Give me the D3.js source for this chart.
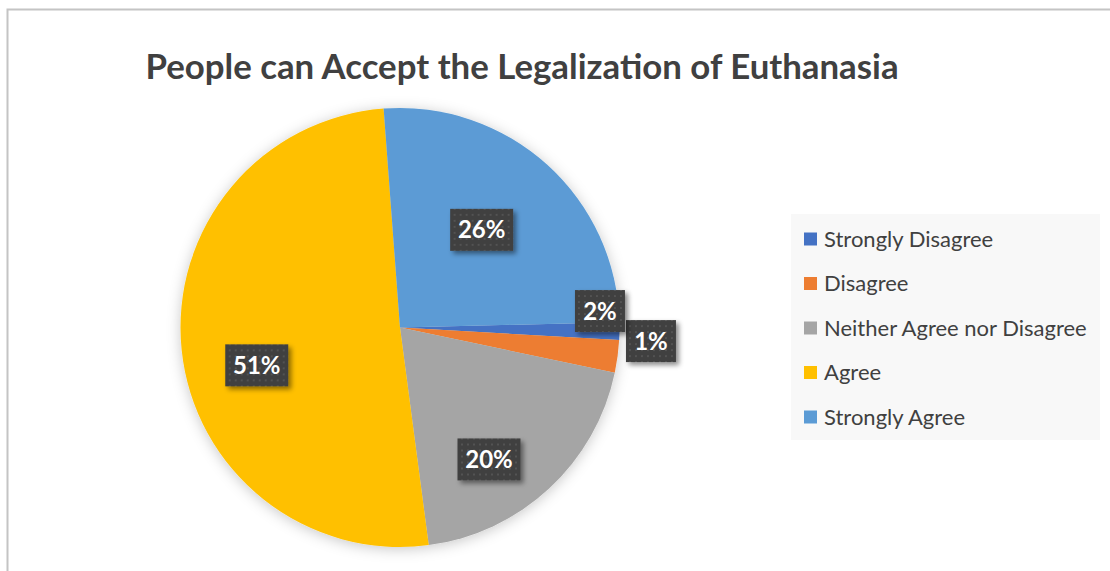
<!DOCTYPE html>
<html>
<head>
<meta charset="utf-8">
<script src="https://cdn.jsdelivr.net/npm/d3@7"></script>
<style>
  html, body { margin: 0; padding: 0; background: #ffffff; }
  svg { display: block; }
</style>
</head>
<body>
<svg id="chart" width="1110" height="571"></svg>
<script>
// ---- data ----
const categories = ["Strongly Disagree", "Disagree", "Neither Agree nor Disagree", "Agree", "Strongly Agree"];
const values = [1.3, 2.4, 19.6, 50.9, 25.8];
const colors = ["#4472C4", "#ED7D31", "#A5A5A5", "#FFC000", "#5B9BD5"];
const titleText = "People can Accept the Legalization of Euthanasia";
// label placement (polar: angle in degrees clockwise from 12 o'clock, radius fraction)
const labelAngles = [93.1, 85.3, 146, 255.2, 39.9];
const labelRadii = [1.145, 0.914, 0.725, 0.675, 0.58];

// ---- layout ----
const W = 1110, H = 571;
const cx = 400, cy = 327.5, R = 219.5;
const startDeg = 88.6;

const svg = d3.select("#chart");
const defs = svg.append("defs");

// soft glow/shadow around pie
const glow = defs.append("filter").attr("id", "pieShadow")
  .attr("x", "-20%").attr("y", "-20%").attr("width", "140%").attr("height", "140%");
glow.append("feDropShadow").attr("dx", 0).attr("dy", 2).attr("stdDeviation", 7)
  .attr("flood-color", "#000").attr("flood-opacity", 0.22);

// label shadow
const ls = defs.append("filter").attr("id", "lblShadow")
  .attr("x", "-30%").attr("y", "-30%").attr("width", "170%").attr("height", "170%");
ls.append("feDropShadow").attr("dx", 3).attr("dy", 3).attr("stdDeviation", 2.5)
  .attr("flood-color", "#000").attr("flood-opacity", 0.45);

// dotted pattern for label boxes
const pat = defs.append("pattern").attr("id", "dots")
  .attr("patternUnits", "userSpaceOnUse").attr("width", 6).attr("height", 6);
pat.append("rect").attr("width", 6).attr("height", 6).attr("fill", "#404040");
pat.append("rect").attr("x", 2).attr("y", 2).attr("width", 2).attr("height", 2).attr("fill", "#525252");

// chart frame
svg.append("rect")
  .attr("x", 7.5).attr("y", 9.5).attr("width", W + 20).attr("height", H + 20)
  .attr("fill", "#ffffff").attr("stroke", "#c4c4c4").attr("stroke-width", 2);

// title
svg.append("text")
  .attr("x", 522).attr("y", 79)
  .attr("text-anchor", "middle")
  .attr("font-family", "Lato, 'Open Sans', sans-serif")
  .attr("font-weight", "bold")
  .attr("font-size", 34.8)
  .attr("fill", "#404040")
  .text(titleText);

// pie
const data = categories.map((c, i) => ({ cat: c, value: values[i], color: colors[i], la: labelAngles[i], lr: labelRadii[i] }));
const toRad = d => d * Math.PI / 180;
const pie = d3.pie().sort(null).value(d => d.value)
  .startAngle(toRad(startDeg)).endAngle(toRad(startDeg) + 2 * Math.PI);
const arc = d3.arc().innerRadius(0).outerRadius(R);
const arcs = pie(data);

const g = svg.append("g").attr("transform", `translate(${cx},${cy})`);
const slices = g.append("g").attr("filter", "url(#pieShadow)");
slices.selectAll("path").data(arcs).join("path")
  .attr("d", arc)
  .attr("fill", d => d.data.color)
  .attr("stroke", "none");

// labels
const total = d3.sum(values);
const fmt = v => Math.round(v / total * 100) + "%";
const lbl = g.append("g").selectAll("g").data(arcs).join("g")
  .attr("transform", d => {
    const a = toRad(d.data.la);
    const r = R * d.data.lr;
    return `translate(${r * Math.sin(a)},${-r * Math.cos(a)})`;
  });
lbl.append("rect")
  .attr("x", d => fmt(d.value).length > 2 ? -31.5 : -25)
  .attr("width", d => fmt(d.value).length > 2 ? 63 : 50)
  .attr("y", -21).attr("height", 42)
  .attr("fill", "url(#dots)")
  .attr("filter", "url(#lblShadow)");
lbl.append("text")
  .attr("text-anchor", "middle")
  .attr("dy", "0.36em")
  .attr("font-family", "Lato, 'Open Sans', sans-serif")
  .attr("font-weight", "bold")
  .attr("font-size", 24)
  .attr("fill", "#ffffff")
  .text(d => fmt(d.value));

// legend
const legend = svg.append("g");
legend.append("rect")
  .attr("x", 791).attr("y", 214).attr("width", 309).attr("height", 226)
  .attr("fill", "#f8f8f8");
const ly = d3.scalePoint().domain(categories).range([239, 417]);
const items = legend.selectAll("g.item").data(data).join("g").attr("class", "item")
  .attr("transform", d => `translate(804,${ly(d.cat)})`);
items.append("rect")
  .attr("x", 0).attr("y", -6.5).attr("width", 13).attr("height", 13)
  .attr("fill", d => d.color);
items.append("text")
  .attr("x", 20).attr("dy", "0.35em")
  .attr("font-family", "Lato, 'Open Sans', sans-serif")
  .attr("font-size", 22)
  .attr("fill", "#404040")
  .text(d => d.cat);
</script>
</body>
</html>
